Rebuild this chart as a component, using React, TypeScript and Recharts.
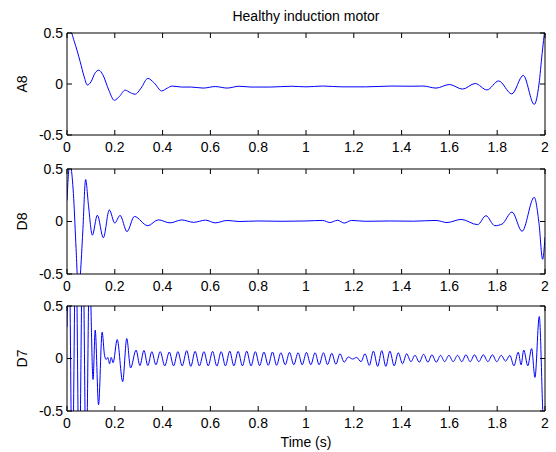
import React from 'react';
import { LineChart, Line, XAxis, YAxis } from 'recharts';

const timeTicks = [0, 0.2, 0.4, 0.6, 0.8, 1, 1.2, 1.4, 1.6, 1.8, 2];
const levelTicks = [-0.5, 0, 0.5];

// A8 approximation
const a8Time = [
  0, 0.012, 0.03, 0.055, 0.072, 0.085, 0.1, 0.118, 0.133, 0.15,
  0.175, 0.198, 0.22, 0.243, 0.265, 0.285, 0.31, 0.338, 0.365, 0.396,
  0.42, 0.44, 0.48, 0.52, 0.57, 0.62, 0.67, 0.72, 0.77, 0.85,
  0.94, 1.0, 1.07, 1.15, 1.25, 1.36, 1.44, 1.49, 1.544, 1.6,
  1.655, 1.708, 1.757, 1.806, 1.861, 1.909, 1.955, 1.975, 1.988, 2.0,
];
const a8Values = [
  0.52, 0.53, 0.42, 0.22, 0.07, -0.01, 0.02, 0.11, 0.135, 0.09,
  -0.06, -0.16, -0.12, -0.06, -0.085, -0.1, -0.04, 0.055, 0.01, -0.068,
  -0.04, -0.02, -0.03, -0.03, -0.04, -0.025, -0.04, -0.022, -0.03, -0.03,
  -0.022, -0.028, -0.02, -0.028, -0.028, -0.02, -0.022, -0.02, -0.04, -0.005,
  -0.05, 0.005, -0.058, 0.03, -0.097, 0.084, -0.2, 0.0, 0.3, 0.55,
];

// D8 detail
const d8Time = [
  0, 0.006, 0.012, 0.018, 0.028, 0.038, 0.048, 0.056, 0.066, 0.078,
  0.09, 0.106, 0.127, 0.152, 0.177, 0.2, 0.222, 0.251, 0.282, 0.338,
  0.382, 0.431, 0.48, 0.53, 0.58, 0.62, 0.67, 0.72, 0.8, 0.9,
  1.0, 1.07, 1.1, 1.132, 1.16, 1.19, 1.25, 1.35, 1.45, 1.544,
  1.59, 1.649, 1.718, 1.753, 1.79, 1.82, 1.862, 1.904, 1.955, 1.975,
  1.99, 2.0,
];
const d8Values = [
  0.2, 0.45, 0.56, 0.5, 0.22, -0.26, -0.68, -0.5, -0.1, 0.4,
  0.15, -0.13, 0.06, -0.155, 0.11, -0.015, 0.058, -0.096, 0.048, -0.04,
  0.016, -0.013, 0.015, -0.008, 0.013, -0.013, 0.01, 0.0, 0.005, 0.002,
  0.005, 0.01, -0.01, 0.012, -0.015, 0.01, 0.002, 0.005, 0.003, 0.01,
  -0.01, 0.02, -0.03, 0.055, -0.04, -0.025, 0.09, -0.093, 0.23, -0.02,
  -0.36, -0.15,
];

// D7 detail (peaks / troughs)
const d7Time = [
  0, 0.008, 0.022, 0.037, 0.051, 0.066, 0.08, 0.094, 0.109, 0.118,
  0.132, 0.147, 0.157, 0.164, 0.171, 0.178, 0.185, 0.193, 0.21, 0.233,
  0.25, 0.266, 0.289, 0.305, 0.322, 0.338, 0.355, 0.372, 0.39, 0.409,
  0.428, 0.446, 0.464, 0.482, 0.501, 0.518, 0.536, 0.554, 0.573, 0.591,
  0.609, 0.627, 0.645, 0.663, 0.681, 0.698, 0.716, 0.734, 0.752, 0.77,
  0.788, 0.806, 0.824, 0.842, 0.86, 0.877, 0.895, 0.913, 0.931, 0.949,
  0.967, 0.984, 1.002, 1.02, 1.038, 1.055, 1.073, 1.09, 1.108, 1.125,
  1.142, 1.16, 1.177, 1.195, 1.212, 1.23, 1.247, 1.265, 1.282, 1.3,
  1.317, 1.334, 1.351, 1.369, 1.386, 1.404, 1.421, 1.439, 1.456, 1.474,
  1.492, 1.51, 1.527, 1.545, 1.563, 1.58, 1.598, 1.616, 1.634, 1.652,
  1.669, 1.687, 1.705, 1.723, 1.742, 1.761, 1.78, 1.798, 1.817, 1.835,
  1.853, 1.87, 1.888, 1.9, 1.911, 1.928, 1.944, 1.958, 1.976, 1.993,
  2.0,
];
const d7Values = [
  0.3, 1.2, -1.2, 1.2, -1.2, 1.2, -1.1, 0.9, -0.2, 0.27,
  -0.44, 0.25, 0.03, -0.01, 0.01, -0.05, 0.01, -0.04, 0.18, -0.22,
  0.19, -0.09, 0.08, -0.067, 0.077, -0.067, 0.065, -0.06, 0.065, -0.07,
  0.062, -0.07, 0.065, -0.07, 0.075, -0.075, 0.068, -0.07, 0.065, -0.07,
  0.068, -0.072, 0.065, -0.07, 0.07, -0.07, 0.068, -0.07, 0.07, -0.07,
  0.065, -0.068, 0.062, -0.065, 0.062, -0.065, 0.055, -0.06, 0.058, -0.06,
  0.055, -0.06, 0.058, -0.06, 0.055, -0.06, 0.055, -0.058, 0.05, -0.055,
  0.045, -0.035, 0.015, -0.005, 0.01, -0.03, 0.045, -0.065, 0.07, -0.075,
  0.075, -0.075, 0.07, -0.07, 0.055, -0.05, 0.045, -0.03, 0.03, -0.035,
  0.04, -0.035, 0.035, -0.035, 0.03, -0.03, 0.03, -0.03, 0.03, -0.03,
  0.035, -0.03, 0.035, -0.03, 0.035, -0.03, 0.035, -0.03, 0.03, -0.025,
  0.03, -0.07, 0.06, -0.06, 0.08, -0.07, 0.095, -0.18, 0.4, -0.6,
  -0.7,
];

const W = 556;
const H = 452;
const font = '"Liberation Sans", Arial, Helvetica, sans-serif';
const axisColor = '#000';

const zip = (t: number[], v: number[]) => t.map((x, i) => ({ t: x, v: v[i] }));

const panels = [
  { name: 'A8', data: zip(a8Time, a8Values), top: 33, bottom: 135 },
  { name: 'D8', data: zip(d8Time, d8Values), top: 169, bottom: 274 },
  { name: 'D7', data: zip(d7Time, d7Values), top: 306, bottom: 411 },
];

const tickStyle = { fill: '#000', fontSize: 14, fontFamily: font };

const App: React.FC = () => {
  return (
    <div style={{ position: 'absolute', left: 0, top: 0, width: W, height: H, background: '#fff', fontFamily: font }}>
      {panels.map((p, idx) => (
        <div key={p.name} style={{ position: 'absolute', left: 0, top: 0 }}>
          <LineChart
            width={W}
            height={H}
            data={p.data}
            margin={{ top: p.top - 1, right: 10, bottom: H - p.bottom - 20, left: 0 }}
          >
            <XAxis
              xAxisId="b"
              dataKey="t"
              type="number"
              domain={[0, 2]}
              ticks={timeTicks}
              interval={0}
              height={20}
              tickSize={-5}
              tickMargin={12}
              stroke={axisColor}
              tick={tickStyle}
              allowDataOverflow
            />
            <XAxis
              xAxisId="top"
              orientation="top"
              dataKey="t"
              type="number"
              domain={[0, 2]}
              ticks={timeTicks}
              height={1}
              tickSize={-5}
              stroke={axisColor}
              tickFormatter={() => ''}
              allowDataOverflow
            />
            <YAxis
              yAxisId="l"
              type="number"
              domain={[-0.5, 0.5]}
              ticks={levelTicks}
              width={67}
              tickSize={-5}
              tickMargin={9}
              stroke={axisColor}
              tick={tickStyle}
              allowDataOverflow
            />
            <YAxis
              yAxisId="r"
              orientation="right"
              type="number"
              domain={[-0.5, 0.5]}
              ticks={levelTicks}
              width={1}
              tickSize={-5}
              stroke={axisColor}
              tickFormatter={() => ''}
              allowDataOverflow
            />
            <Line
              xAxisId="b"
              yAxisId="l"
              type="monotone"
              dataKey="v"
              stroke="#0000ff"
              strokeWidth={1}
              dot={false}
              activeDot={false}
              isAnimationActive={false}
            />
            <text
              x={27}
              y={(p.top + p.bottom) / 2}
              transform={`rotate(-90, 27, ${(p.top + p.bottom) / 2})`}
              textAnchor="middle"
              fontSize={14}
              fontFamily={font}
              fill="#000"
            >
              {p.name}
            </text>
            {idx === 0 && (
              <text x={306} y={21} textAnchor="middle" fontSize={14} fontFamily={font} fill="#000">
                Healthy induction motor
              </text>
            )}
            {idx === panels.length - 1 && (
              <text x={306} y={447} textAnchor="middle" fontSize={14} fontFamily={font} fill="#000">
                Time (s)
              </text>
            )}
          </LineChart>
        </div>
      ))}
    </div>
  );
};

export default App;
